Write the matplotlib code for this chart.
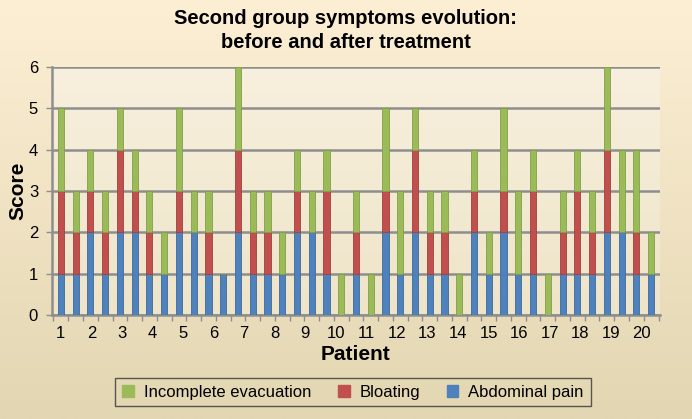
import numpy as np
import matplotlib.pyplot as plt
from matplotlib.patches import Patch
from matplotlib.colors import LinearSegmentedColormap

plt.rcParams['font.family'] = ['Liberation Sans', 'DejaVu Sans']

# scores, one entry per bar (two bars per patient)
abdominal_pain = [1, 1, 2, 1, 2, 2, 1, 1, 2, 2, 1, 1, 2, 1, 1, 1, 2, 2, 1, 0, 1,
                  0, 2, 1, 2, 1, 1, 0, 2, 1, 2, 1, 1, 0, 1, 1, 1, 2, 2, 1, 1]
bloating = [2, 1, 1, 1, 2, 1, 1, 0, 1, 0, 1, 0, 2, 1, 1, 0, 1, 0, 2, 0, 1,
            0, 1, 0, 2, 1, 1, 0, 1, 0, 1, 0, 2, 0, 1, 2, 1, 2, 0, 1, 0]
incomplete_evacuation = [2, 1, 1, 1, 1, 1, 1, 1, 2, 1, 1, 0, 2, 1, 1, 1, 1, 1, 1, 1, 1,
                         1, 2, 2, 1, 1, 1, 1, 1, 1, 2, 2, 1, 1, 1, 1, 1, 2, 2, 2, 1]
patients = [str(i) for i in range(1, 21)]

blue = '#4F81BD'
red = '#C0504D'
green = '#9BBB59'

fig = plt.figure(figsize=(6.92, 4.19), dpi=100)

# beige gradient background
bg = fig.add_axes([0, 0, 1, 1], zorder=-10)
grad = np.linspace(0, 1, 256).reshape(-1, 1)
cmap_bg = LinearSegmentedColormap.from_list('bg', ['#FDEFD4', '#E3D6B2'])
bg.imshow(grad, aspect='auto', cmap=cmap_bg, extent=[0, 1, 0, 1])
bg.axis('off')

ax = fig.add_axes([52 / 692, 1 - 315 / 419, 608 / 692, 248 / 419])
cmap_pa = LinearSegmentedColormap.from_list('pa', ['#F8F0DE', '#EEE4C8'])
ax.imshow(grad, aspect='auto', cmap=cmap_pa, extent=[-0.6, 40.6, 0, 6], zorder=0)

x = np.arange(len(abdominal_pain))
ab = np.array(abdominal_pain)
bl = np.array(bloating)
ie = np.array(incomplete_evacuation)
w = 0.42
ax.bar(x, ab, width=w, color=blue, edgecolor='#3C6A9E', linewidth=0.6, zorder=3)
ax.bar(x, bl, width=w, bottom=ab, color=red, edgecolor='#A33F3C', linewidth=0.6, zorder=3)
ax.bar(x, ie, width=w, bottom=ab + bl, color=green, edgecolor='#82A048', linewidth=0.6, zorder=3)

ax.set_xlim(-0.6, 40.6)
ax.set_ylim(0, 6)
ax.set_yticks(range(7))
ax.yaxis.grid(True, color='#8E8E8E', linewidth=1.8, zorder=1)
ax.set_axisbelow(True)

ax.set_xticks(np.arange(20) * 2.07)
ax.set_xticklabels(patients, fontsize=12)
ax.set_xticks(np.arange(-0.5, 41, 1), minor=True)
ax.tick_params(axis='x', which='major', length=0, pad=8)
ax.tick_params(axis='x', which='minor', length=4, color='#8E8E8E', width=1)
ax.tick_params(axis='y', length=4, color='#8E8E8E', width=1, labelsize=12, pad=6)

for s in ['top', 'right']:
    ax.spines[s].set_visible(False)
for s in ['left', 'bottom']:
    ax.spines[s].set_color('#8E8E8E')
    ax.spines[s].set_linewidth(1.8)

ax.set_ylabel('Score', fontsize=15, fontweight='bold', va='center')
ax.yaxis.set_label_coords(-34 / 608, 0.5)
ax.set_xlabel('Patient', fontsize=15, fontweight='bold', va='center')
ax.xaxis.set_label_coords(0.5, -40 / 248)

fig.text(0.5, 1 - 18 / 419, 'Second group symptoms evolution:', ha='center', va='center',
         fontsize=14.5, fontweight='bold')
fig.text(0.5, 1 - 43 / 419, 'before and after treatment', ha='center', va='center',
         fontsize=14.5, fontweight='bold')

handles = [Patch(color=green, label='Incomplete evacuation'),
           Patch(color=red, label='Bloating'),
           Patch(color=blue, label='Abdominal pain')]
leg = fig.legend(handles=handles, loc='center', bbox_to_anchor=(353 / 692, 1 - 392 / 419),
                 ncol=3, fontsize=12, frameon=True, fancybox=False, edgecolor='#333333',
                 handlelength=0.7, handleheight=0.7, columnspacing=1.6, handletextpad=0.6,
                 borderpad=0.4)
leg.get_frame().set_facecolor('none')
leg.get_frame().set_linewidth(1.0)

fig.savefig('out.png', dpi=100)
